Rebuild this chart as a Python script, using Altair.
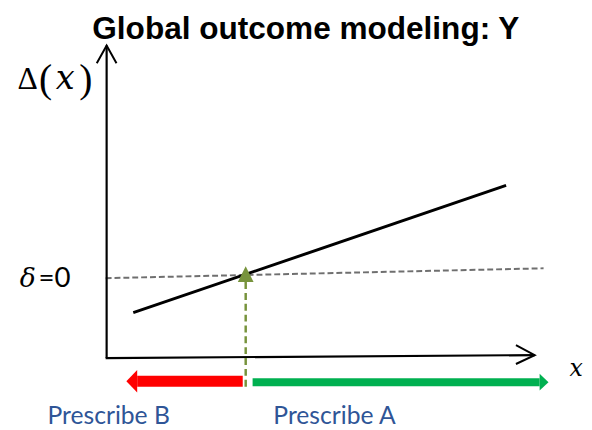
import altair as alt
import pandas as pd

# Diagram coordinates: origin at the axes' corner, units ~ pixels, y upward
XD = [-100, 484]
YD = [-70, 352]

title_text = ["Global outcome modeling: Y"]

# axes
y_axis_x = [0, 0]
y_axis_y = [0, 317]
y_head_x = [-10, 0, 10]
y_head_y = [299, 317, 299]
x_axis_x = [-1, 434]
x_axis_y = [0, 3]
x_head_x = [415, 434, 415]
x_head_y = [13, 3, -6]

# Delta(x) line and delta = 0 threshold
delta_x = [27, 405]
delta_y = [46, 175]
zero_x = [-1, 443]
zero_y = [81, 91]

# crossing point arrow (dashed, olive)
cross_x = [141, 141]
cross_y = [-29, 77]
cross_head_y = [77, 93]
cross_head_x = [133, 141]
cross_head_x2 = [149, 141]

# Prescribe B (red) arrow pointing left
red_x = [31, 138]
red_y = [-23.5, -23.5]
red_head_x = [20, 31]
red_head_y = [-23.5, -12]
red_head_y2 = [-23.5, -35]

# Prescribe A (green) arrow pointing right
green_x = [148, 439]
green_y = [-24.5, -24.5]
green_head_x = [439, 448]
green_head_y = [-16, -24.5]
green_head_y2 = [-33, -24.5]

labels = ["Prescribe B", "Prescribe A"]
label_x = [-60, 169]
label_y = [-67, -67]


def X(f="x"):
    return alt.X(f"{f}:Q", scale=alt.Scale(domain=XD), axis=None)


def Y(f="y"):
    return alt.Y(f"{f}:Q", scale=alt.Scale(domain=YD), axis=None)


def seg(xs, ys, color, width, dash=None):
    df = pd.DataFrame({"x": [xs[0]], "y": [ys[0]], "x2": [xs[1]], "y2": [ys[1]]})
    kw = dict(color=color, strokeWidth=width, strokeCap="butt")
    if dash:
        kw["strokeDash"] = dash
    return alt.Chart(df).mark_rule(**kw).encode(
        x=X(), y=Y(), x2="x2:Q", y2="y2:Q")


def poly(xs, ys, color, width):
    df = pd.DataFrame({"x": xs, "y": ys, "i": list(range(len(xs)))})
    return alt.Chart(df).mark_line(color=color, strokeWidth=width).encode(
        x=X(), y=Y(), order="i:Q")


def txt(s, x, y, **kw):
    df = pd.DataFrame({"x": [x], "y": [y], "t": [s]})
    return alt.Chart(df).mark_text(**kw).encode(x=X(), y=Y(), text="t:N")


layers = []
# threshold dashed line
layers.append(seg(zero_x, zero_y, "#6f6f6f", 2, [6, 3]))
# axes
layers.append(seg(y_axis_x, y_axis_y, "black", 2.2))
layers.append(poly(y_head_x, y_head_y, "black", 2))
layers.append(seg(x_axis_x, x_axis_y, "black", 2.2))
layers.append(poly(x_head_x, x_head_y, "black", 2))
# Delta(x) line
layers.append(seg(delta_x, delta_y, "black", 3))
# crossing arrow
layers.append(seg(cross_x, cross_y, "#77933C", 2.5, [7, 4]))
layers.append(alt.Chart(pd.DataFrame({"y": cross_head_y, "x": cross_head_x, "x2": cross_head_x2}))
              .mark_area(orient="horizontal", color="#77933C")
              .encode(y=Y(), x=X(), x2="x2:Q"))
# red arrow
layers.append(seg(red_x, red_y, "#FF0000", 11))
layers.append(alt.Chart(pd.DataFrame({"x": red_head_x, "y": red_head_y, "y2": red_head_y2}))
              .mark_area(orient="vertical", color="#FF0000")
              .encode(x=X(), y=Y(), y2="y2:Q"))
# green arrow
layers.append(seg(green_x, green_y, "#00B050", 8))
layers.append(alt.Chart(pd.DataFrame({"x": green_head_x, "y": green_head_y, "y2": green_head_y2}))
              .mark_area(orient="vertical", color="#00B050")
              .encode(x=X(), y=Y(), y2="y2:Q"))

# texts
layers.append(txt(title_text[0], 202, 324, font="Liberation Sans", fontWeight="bold",
                  fontSize=32, align="center", baseline="alphabetic", color="black"))
layers.append(txt("Δ", -80, 273, font="Liberation Serif", fontSize=32, align="center",
                  baseline="alphabetic", color="black"))
layers.append(txt("(", -62, 270, font="Liberation Serif", fontSize=40, align="center",
                  baseline="alphabetic", color="black"))
layers.append(txt("x", -42, 273, font="DejaVu Serif", fontStyle="italic", fontSize=34,
                  align="center", baseline="alphabetic", color="black"))
layers.append(txt(")", -21, 270, font="Liberation Serif", fontSize=40, align="center",
                  baseline="alphabetic", color="black"))
layers.append(txt("δ", -80, 72, font="DejaVu Serif", fontStyle="italic", fontSize=27,
                  align="center", baseline="alphabetic", color="black"))
layers.append(txt("=0", -69, 72, font="Lato", fontSize=28, align="left",
                  baseline="alphabetic", color="black"))
layers.append(txt("x", 476, -18, font="DejaVu Serif", fontStyle="italic", fontSize=24,
                  align="center", baseline="alphabetic", color="black"))
for s, lx, ly in zip(labels, label_x, label_y):
    layers.append(txt(s, lx, ly, font="Lato", fontSize=25, align="left",
                      baseline="alphabetic", color="#2F5597"))

chart = alt.layer(*layers).properties(
    width=584, height=422, autosize="none", padding=0
).configure_view(stroke=None)

chart.save("out.html", embed_options={"renderer": "svg", "actions": False})
